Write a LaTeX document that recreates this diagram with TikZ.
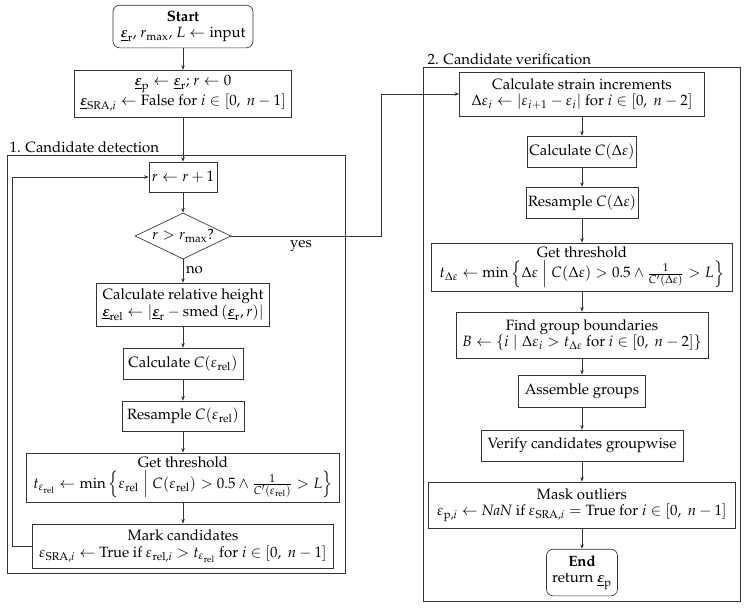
\documentclass[tikz,border=0pt]{standalone}
\usepackage[T1]{fontenc}
\usepackage{mathpazo}
\usepackage{amsmath}
\usetikzlibrary{arrows.meta,shapes.geometric}
\newcommand{\ueps}[1]{\underline{\boldsymbol{\varepsilon}}_{\mathrm{#1}}}
\begin{document}
\begin{tikzpicture}[x=0.75pt,y=-0.75pt,
  every node/.style={font=\fontsize{11.2}{12.5}\selectfont},
  box/.style={draw=black!80, line width=0.5pt, align=center, inner sep=1.5pt},
  rbox/.style={box, rounded corners=5pt},
  frame/.style={draw=black!80, line width=0.6pt},
  arr/.style={draw=black!80, line width=0.5pt, -{Stealth[length=3.5pt,width=2.6pt]}},
  lab/.style={inner sep=1pt}]
\useasboundingbox (0,0) rectangle (746,607);
% frames
\draw[frame] (7,155) rectangle (345,573);
\draw[frame] (423,67) rectangle (740,601);
\node[lab, anchor=south west] (l1) at (8,154) {1. Candidate detection};
\node[lab, anchor=south west] (l2) at (426,66) {2. Candidate verification};
% group 1
\node[rbox, minimum width=105pt, minimum height=32pt] (start) at (183,26.5)
  {\textbf{Start}\\$\ueps{r}$, $r_{\max}$, $L \leftarrow \text{input}$};
\node[box, minimum width=162.75pt, minimum height=35pt] (init) at (183,93.5)
  {$\ueps{p} \leftarrow \ueps{r}$; $r \leftarrow 0$\\
   $\underline{\boldsymbol{\varepsilon}}_{\mathrm{SRA},i} \leftarrow \text{False for } i \in [0,\ n-1]$};
\node[box, minimum width=51pt, minimum height=22.5pt] (inc) at (183,177) {$r \leftarrow r+1$};
\node[diamond, draw=black!80, line width=0.5pt, minimum width=72pt, minimum height=34.5pt, inner sep=0pt, aspect=2.1] (dec) at (183,236) {$r > r_{\max}$?};
\node[box, minimum width=129.75pt, minimum height=32pt] (rel) at (183,304.5)
  {Calculate relative height\\
   $\ueps{rel} \leftarrow \left|\ueps{r} - \mathrm{smed}\left(\ueps{r}, r\right)\right|$};
\node[box, minimum width=90pt, minimum height=23pt] (calc1) at (183,363.5) {Calculate $C(\varepsilon_{\mathrm{rel}})$};
\node[box, minimum width=91.5pt, minimum height=22.5pt] (res1) at (183,416) {Resample $C(\varepsilon_{\mathrm{rel}})$};
\node[box, minimum width=234.75pt, minimum height=36.75pt] (thr1) at (183,477.5)
  {Get threshold\\[1pt]
   $t_{\varepsilon_{\mathrm{rel}}} \leftarrow \min\left\{\varepsilon_{\mathrm{rel}} \;\middle|\; C(\varepsilon_{\mathrm{rel}}) > 0.5 \wedge \frac{1}{C'(\varepsilon_{\mathrm{rel}})} > L\right\}$};
\node[box, minimum width=225.75pt, minimum height=33pt] (mark) at (183,546)
  {Mark candidates\\
   $\varepsilon_{\mathrm{SRA},i} \leftarrow \text{True if } \varepsilon_{\mathrm{rel},i} > t_{\varepsilon_{\mathrm{rel}}} \text{ for } i \in [0,\ n-1]$};
% group 2
\node[box, minimum width=183.75pt, minimum height=33pt] (s1) at (582,94)
  {Calculate strain increments\\
   $\Delta\varepsilon_i \leftarrow |\varepsilon_{i+1} - \varepsilon_i| \text{ for } i \in [0,\ n-2]$};
\node[box, minimum width=74.25pt, minimum height=23pt] (c2) at (582,151.5) {Calculate $C(\Delta\varepsilon)$};
\node[box, minimum width=77.25pt, minimum height=23pt] (r2) at (582,202.5) {Resample $C(\Delta\varepsilon)$};
\node[box, minimum width=225.75pt, minimum height=36pt] (t2) at (582,267)
  {Get threshold\\[1pt]
   $t_{\Delta\varepsilon} \leftarrow \min\left\{\Delta\varepsilon \;\middle|\; C(\Delta\varepsilon) > 0.5 \wedge \frac{1}{C'(\Delta\varepsilon)} > L\right\}$};
\node[box, minimum width=189pt, minimum height=34.5pt] (b2) at (582,335)
  {Find group boundaries\\
   $B \leftarrow \{i \mid \Delta\varepsilon_i > t_{\Delta\varepsilon} \text{ for } i \in [0,\ n-2]\}$};
\node[box, minimum width=95.25pt, minimum height=24pt] (a2) at (582,391) {Assemble groups};
\node[box, minimum width=151.5pt, minimum height=23pt] (v2) at (582,445.5) {Verify candidates groupwise};
\node[box, minimum width=230.25pt, minimum height=34.5pt] (m2) at (582,505)
  {Mask outliers\\
   $\varepsilon_{\mathrm{p},i} \leftarrow \mathit{NaN} \text{ if } \varepsilon_{\mathrm{SRA},i} = \text{True for } i \in [0,\ n-1]$};
\node[rbox, minimum width=53.25pt, minimum height=35pt] (end) at (582,572.5)
  {\textbf{End}\\return $\ueps{p}$};
% connectors group 1
\draw[arr] (start) -- (init);
\draw[arr] (init) -- (inc);
\draw[arr] (inc) -- (dec);
\draw[arr] (dec) -- node[right, inner sep=2pt, pos=0.45] (no) {no} (rel);
\draw[arr] (rel) -- (calc1);
\draw[arr] (calc1) -- (res1);
\draw[arr] (res1) -- (thr1);
\draw[arr] (thr1) -- (mark);
\coordinate (lc) at (12,546);
\draw[arr] (mark.west) -- (lc) |- (inc.west);
\coordinate (yc) at (381,236);
\draw[arr] (dec.east) -- (yc) |- (s1.west);
\node[inner sep=0pt] (yes) at (301,246) {yes};
% connectors group 2
\draw[arr] (s1) -- (c2);
\draw[arr] (c2) -- (r2);
\draw[arr] (r2) -- (t2);
\draw[arr] (t2) -- (b2);
\draw[arr] (b2) -- (a2);
\draw[arr] (a2) -- (v2);
\draw[arr] (v2) -- (m2);
\draw[arr] (m2) -- (end);
\end{tikzpicture}
\end{document}
